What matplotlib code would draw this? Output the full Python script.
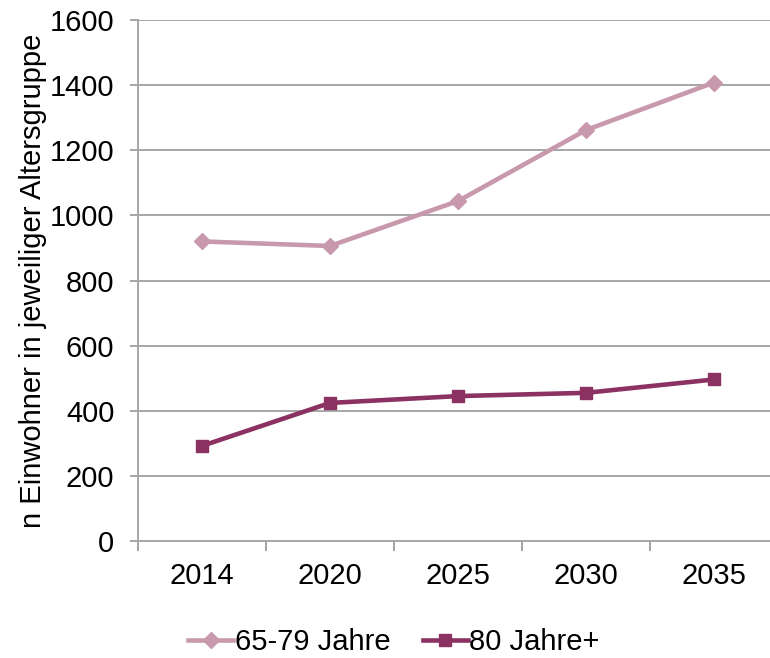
import matplotlib
matplotlib.use("Agg")
import matplotlib.pyplot as plt

years = ["2014", "2020", "2025", "2030", "2035"]
age_65_79 = [920, 906, 1044, 1262, 1408]
age_80_plus = [292, 424, 445, 455, 496]
y_ticks = [0, 200, 400, 600, 800, 1000, 1200, 1400, 1600]

plt.rcParams["font.family"] = ["Liberation Sans", "DejaVu Sans"]
FS = 21

fig = plt.figure(figsize=(7.7, 6.58), dpi=100)
W, H = 770, 658
left, right, top, bottom = 138, 778, 20, 541
ax = fig.add_axes([left / W, 1 - bottom / H, (right - left) / W, (bottom - top) / H])

x = list(range(len(years)))
ax.plot(x, age_65_79, color="#C899AC", lw=3.3, marker="D", ms=8.3,
        label="65-79 Jahre", zorder=3)
ax.plot(x, age_80_plus, color="#8C3262", lw=3.3, marker="s", ms=9,
        label="80 Jahre+", zorder=3)

ax.set_xlim(-0.5, len(years) - 0.5)
ax.set_ylim(0, 1600)
ax.set_yticks(y_ticks)
ax.set_xticks(x)
ax.set_xticklabels(years)
ax.set_xticks([i - 0.5 for i in range(len(years) + 1)], minor=True)

grid_c = "#A6A6A6"
for v in y_ticks[1:]:
    ax.axhline(v, color=grid_c, lw=1.4, zorder=1)
for s in ["top", "right"]:
    ax.spines[s].set_visible(False)
for s in ["left", "bottom"]:
    ax.spines[s].set_color(grid_c)
    ax.spines[s].set_linewidth(1.4)

ax.tick_params(axis="y", which="major", length=6, width=1.4, color=grid_c,
               labelsize=FS, pad=11, direction="out")
ax.tick_params(axis="x", which="major", length=0, labelsize=FS, pad=15)
ax.tick_params(axis="x", which="minor", length=7, width=1.4, color=grid_c,
               direction="out")

ax.set_ylabel("n Einwohner in jeweiliger Altersgruppe", fontsize=FS)
ax.yaxis.set_label_coords((47 - left) / (right - left), 0.5)

fig.legend(loc="center", bbox_to_anchor=(394 / W, 1 - 642 / H), ncol=2,
           frameon=False, fontsize=FS, handlelength=1.55, handletextpad=0.05,
           columnspacing=1.1, borderpad=0)

fig.savefig("out.png", dpi=100)
